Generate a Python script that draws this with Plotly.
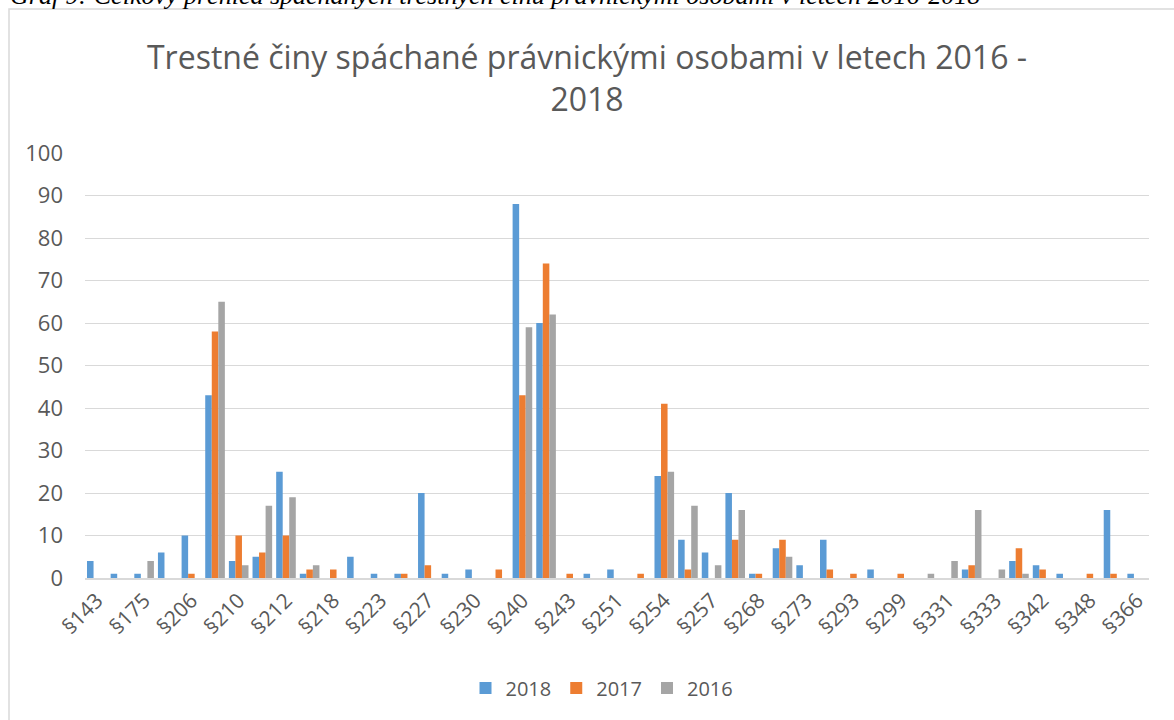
import plotly.graph_objects as go

# trestné činy - paragrafy (každý druhý popisek se v grafu nezobrazuje)
paragrafy = ["§143", "§146", "§175", "§205", "§206", "§209", "§210", "§211", "§212", "§216",
             "§218", "§220", "§223", "§226", "§227", "§228", "§230", "§234", "§240", "§241",
             "§243", "§248", "§251", "§253", "§254", "§256", "§257", "§260", "§268", "§270",
             "§273", "§284", "§293", "§298", "§299", "§329", "§331", "§332", "§333", "§340",
             "§342", "§346", "§348", "§361", "§366"]

r2018 = [4, 1, 1, 6, 10, 43, 4, 5, 25, 1,
         None, 5, 1, 1, 20, 1, 2, None, 88, 60,
         None, 1, 2, None, 24, 9, 6, 20, 1, 7,
         3, 9, None, 2, None, None, None, 2, None, 4,
         3, 1, None, 16, 1]
r2017 = [None, None, None, None, 1, 58, 10, 6, 10, 2,
         2, None, None, 1, 3, None, None, 2, 43, 74,
         1, None, None, 1, 41, 2, None, 9, 1, 9,
         None, 2, 1, None, 1, None, None, 3, None, 7,
         2, None, 1, 1, None]
r2016 = [None, None, 4, None, None, 65, 3, 17, 19, 3,
         None, None, None, None, None, None, None, None, 59, 62,
         None, None, None, None, 25, 17, 3, 16, None, 5,
         None, None, None, None, None, 1, 4, 16, 2, 1,
         None, None, None, None, None]

roky = ["2018", "2017", "2016"]
barvy = ["#5B9BD5", "#ED7D31", "#A5A5A5"]

fig = go.Figure()
for rok, hodnoty, barva in zip(roky, [r2018, r2017, r2016], barvy):
    fig.add_trace(go.Bar(x=paragrafy, y=hodnoty, name=rok, marker_color=barva,
                         marker_line_width=0))

# rozměry plochy grafu v pixelech (kvůli rámečku a popisku nahoře)
L, R, T, B = 85, 25, 153, 142
plot_w = 1174 - L - R
plot_h = 720 - T - B

fig.update_layout(
    width=1174, height=720,
    margin=dict(l=L, r=R, t=T, b=B, autoexpand=False),
    plot_bgcolor="white", paper_bgcolor="white",
    barmode="group", bargap=0.17, bargroupgap=0,
    font=dict(family="Open Sans", color="#595959", size=20),
    title=dict(text="Trestné činy spáchané právnickými osobami v letech 2016 -<br>2018",
               x=0.5, xanchor="center", xref="container",
               y=1 - 69 / 720, yanchor="middle",
               font=dict(family="Open Sans", size=32, color="#595959")),
    legend=dict(orientation="h", xref="container", x=602 / 1174, xanchor="center",
                yref="container", y=1 - 688 / 720, yanchor="middle",
                font=dict(size=20), traceorder="normal", itemwidth=30),
    showlegend=True,
)

fig.update_xaxes(tickvals=paragrafy[::2], ticktext=paragrafy[::2], tickangle=-45,
                 showgrid=False, showline=True, linecolor="#D9D9D9", linewidth=2,
                 ticks="", tickfont=dict(size=21), automargin=False)
fig.update_yaxes(range=[0, 100], dtick=10, showgrid=True, gridcolor="#D9D9D9",
                 gridwidth=1, zeroline=False, showline=False, ticks="",
                 ticklabelstandoff=21, tickfont=dict(size=22), automargin=False)

# rámeček grafu
fig.add_shape(type="rect", xref="paper", yref="paper",
              x0=(9 - L) / plot_w, x1=(1190 - L) / plot_w,
              y0=(578 - 740) / plot_h, y1=(578 - 9) / plot_h,
              line=dict(color="#D9D9D9", width=1.5), fillcolor="rgba(0,0,0,0)", layer="below")

# popisek nad grafem (v originále oříznutý)
fig.add_annotation(text="Graf 9: Celkový přehled spáchaných trestných činů právnickými osobami v letech 2016-2018",
                   xref="paper", yref="paper", x=(8 - L) / plot_w, xanchor="left",
                   y=(578 - 12) / plot_h, yanchor="bottom", showarrow=False,
                   font=dict(family="Liberation Serif", size=26, color="black", style="italic"))

# bez okraje stránky, aby graf začínal v levém horním rohu
fig.write_html("out.html", config={"displayModeBar": False},
               post_script="document.body.style.margin='0';")
